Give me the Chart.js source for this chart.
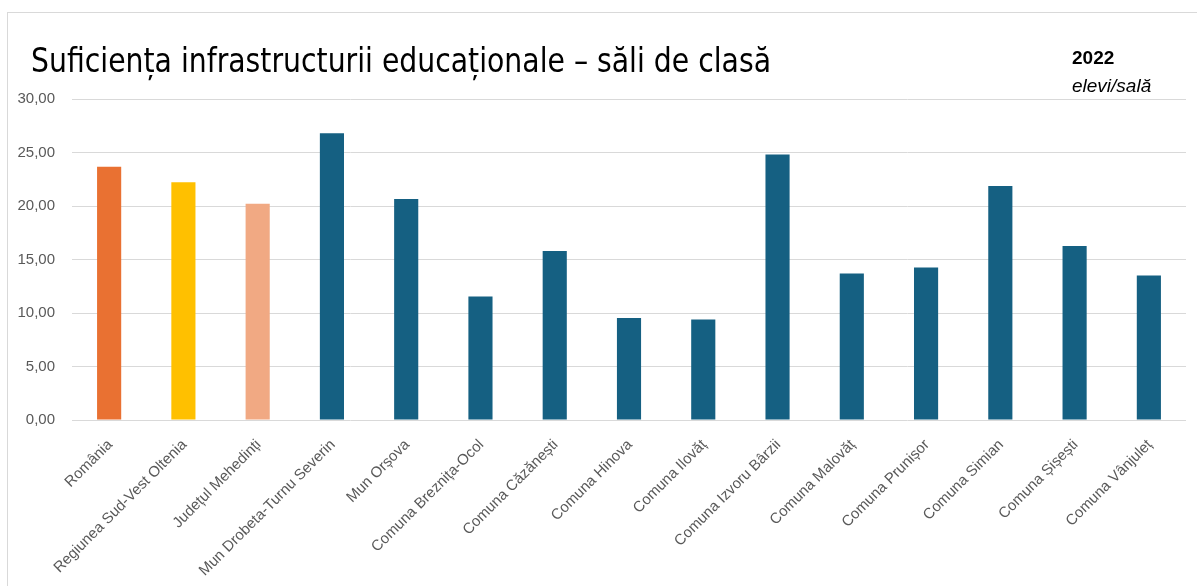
<!DOCTYPE html>
<html>
<head>
<meta charset="utf-8">
<script src="https://cdn.jsdelivr.net/npm/chart.js@4"></script>
<style>
  html, body { margin: 0; padding: 0; background: #fff; overflow: hidden; }
  #wrap { position: relative; width: 1197px; height: 586px; }
  #frame { position: absolute; left: 7px; top: 12px; width: 1400px; height: 800px; border: 1px solid #d9d9d9; }
  #title { position: absolute; left: 31px; top: 44px; line-height: 1; font-family: "Liberation Sans Narrow", "DejaVu Sans Condensed", sans-serif; font-size: 33px; color: #000; white-space: nowrap; transform-origin: left top; }
  #year { position: absolute; left: 1072px; top: 48px; line-height: 1; font-family: "Liberation Sans", Arial, sans-serif; font-weight: bold; font-size: 19px; color: #000; }
  #unit { position: absolute; left: 1072px; top: 76px; line-height: 1; font-family: "Liberation Sans", Arial, sans-serif; font-style: italic; font-size: 19px; color: #000; }
  canvas { position: absolute; left: 0; top: 0; }
</style>
</head>
<body>
<div id="wrap">
  <div id="frame"></div>
  <canvas id="chart" width="1197" height="586"></canvas>
  <div id="title">Suficiența infrastructurii educaționale – săli de clasă</div>
  <div id="year">2022</div>
  <div id="unit">elevi/sală</div>
</div>
<script>
const categories = [
  'România', 'Regiunea Sud-Vest Oltenia', 'Județul Mehedinți', 'Mun Drobeta-Turnu Severin',
  'Mun Orșova', 'Comuna Breznița-Ocol', 'Comuna Căzănești', 'Comuna Hinova', 'Comuna Ilovăț',
  'Comuna Izvoru Bârzii', 'Comuna Malovăț', 'Comuna Prunișor', 'Comuna Simian',
  'Comuna Șișești', 'Comuna Vânjuleț'
];
const elevPerSala = [23.67, 22.21, 20.21, 26.79, 20.65, 11.55, 15.79, 9.53, 9.40, 24.82, 13.70, 14.26, 21.87, 16.26, 13.51];
const barColors = ['#E97132', '#FFC000', '#F1A983', '#156082', '#156082', '#156082', '#156082',
  '#156082', '#156082', '#156082', '#156082', '#156082', '#156082', '#156082', '#156082'];
const yTicks = [0, 5, 10, 15, 20, 25, 30];

// fit title width to the reference (about 740px)
const t = document.getElementById('title');
const w = t.getBoundingClientRect().width;
t.style.transform = 'scaleX(' + (740 / w) + ')';

var ctx = document.getElementById('chart');
new Chart(ctx, {
  type: 'bar',
  data: {
    labels: categories,
    datasets: [{
      data: elevPerSala,
      backgroundColor: barColors,
      borderWidth: 0,
      categoryPercentage: 1,
      barPercentage: 0.325
    }]
  },
  options: {
    responsive: false,
    animation: false,
    layout: { padding: { top: 99, right: 11, left: 0, bottom: 0 } },
    plugins: {
      legend: { display: false },
      tooltip: { enabled: false }
    },
    scales: {
      x: {
        border: { display: false },
        grid: { display: false, drawTicks: false },
        ticks: {
          minRotation: 45,
          maxRotation: 45,
          autoSkip: false,
          padding: 16,
          labelOffset: 1,
          color: '#595959',
          font: { family: 'Liberation Sans', size: 15 }
        },
        afterFit(scale) { scale.height = 166; }
      },
      y: {
        min: 0,
        max: 30,
        border: { display: false },
        grid: { color: '#d9d9d9', lineWidth: 1, drawTicks: false },
        afterBuildTicks(scale) { scale.ticks = yTicks.map(v => ({ value: v })); },
        ticks: {
          padding: 17,
          color: '#595959',
          font: { family: 'Liberation Sans', size: 15 },
          callback: v => v.toFixed(2).replace('.', ',')
        },
        afterFit(scale) { scale.width = 72; }
      }
    }
  }
});
</script>
</body>
</html>
